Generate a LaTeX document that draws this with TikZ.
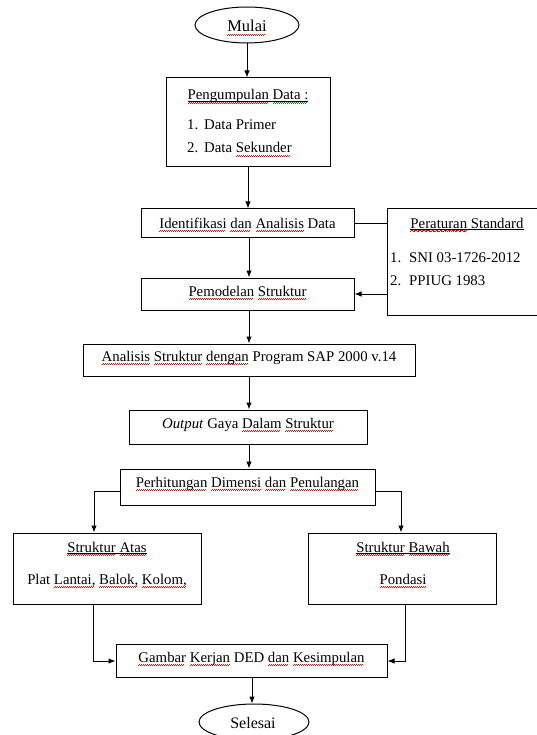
\documentclass[tikz,border=0pt]{standalone}
\usepackage{fontspec}
\setmainfont{Liberation Serif}
\usetikzlibrary{shapes.geometric,arrows.meta}
\newsavebox\wbox
\newcommand\wavepiece{\hbox{\rule[0pt]{1pt}{0.45pt}\rule[0.6pt]{1pt}{0.45pt}}}
\newcommand\wavy[2]{\sbox\wbox{#2}\rlap{\raisebox{-3.4pt}{\hbox to\wd\wbox{\color{#1}\leaders\wavepiece\hfill}}}\usebox\wbox}
\newcommand\rw[1]{\wavy{red}{#1}}
\newcommand\gw[1]{\wavy{green!55!black}{#1}}
\newsavebox\ulbox
\newcommand\ulx[1]{\sbox\ulbox{#1}\rlap{\rule[-1.6pt]{\wd\ulbox}{0.6pt}}\usebox\ulbox}
\begin{document}
\begin{tikzpicture}[x=1pt,y=-1pt,
  every node/.style={font=\fontsize{14.8}{17}\selectfont, inner sep=0pt},
  big/.style={font=\fontsize{16.5}{19}\selectfont},
  box/.style={draw, line width=1pt, rectangle},
  oval/.style={draw, line width=1pt, ellipse},
  lbl/.style={anchor=base},
  lbw/.style={anchor=base west},
  conn/.style={line width=1pt},
  arr/.style={conn, -{Latex[length=7pt,width=5.5pt]}}]
\useasboundingbox (0,0) rectangle (537,735);
% shapes
\node[oval, minimum width=104pt, minimum height=36pt] (mulai) at (247,25) {};
\node[box, minimum width=164pt, minimum height=89pt] (peng) at (248,122.5) {};
\node[box, minimum width=213pt, minimum height=28pt] (ident) at (247.5,223) {};
\node[box, minimum width=158pt, minimum height=106pt] (perat) at (466,262) {};
\node[box, minimum width=213pt, minimum height=32pt] (pemod) at (247.5,294) {};
\node[box, minimum width=332pt, minimum height=32pt] (anal) at (249,360) {};
\node[box, minimum width=238pt, minimum height=34pt] (outp) at (248,427) {};
\node[box, minimum width=255pt, minimum height=36pt] (perh) at (247.5,487) {};
\node[box, minimum width=188pt, minimum height=71pt] (atas) at (107,568.5) {};
\node[box, minimum width=188pt, minimum height=71pt] (bawah) at (402,568.5) {};
\node[box, minimum width=271pt, minimum height=33pt] (gamb) at (251.5,660.5) {};
\node[oval, minimum width=110pt, minimum height=36pt] (selesai) at (254,722) {};
% texts
\node[lbl, big] (tmulai) at (247,32) {\rw{Mulai}};
\node[lbl] (tpeng) at (248,100) {\ulx{\rw{Pengumpulan} \gw{Data :}}};
\node[lbw] (n1) at (187,130) {1.};
\node[lbw] (tp1) at (204,130) {Data Primer};
\node[lbw] (n2) at (187,153) {2.};
\node[lbw] (tp2) at (204,153) {Data \rw{Sekunder}};
\node[lbl] (tident) at (247.5,228) {\rw{Identifikasi} \rw{dan} \rw{Analisis} Data};
\node[lbl] (tperat) at (467,228) {\ulx{\rw{Peraturan} Standard}};
\node[lbw] (n3) at (390,262) {1.};
\node[lbw] (tr1) at (409,262) {SNI 03-1726-2012};
\node[lbw] (n4) at (390,285) {2.};
\node[lbw] (tr2) at (409,285) {PPIUG 1983};
\node[lbl] (tpemod) at (247.5,296) {\rw{Pemodelan} \rw{Struktur}};
\node[lbl] (tanal) at (249,361) {\rw{Analisis} \rw{Struktur} \rw{dengan} Program SAP 2000 v.14};
\node[lbl] (toutp) at (248,428) {\textit{Output} Gaya \rw{Dalam} \rw{Struktur}};
\node[lbl] (tperh) at (247.5,487) {\rw{Perhitungan} \rw{Dimensi} \rw{dan} \rw{Penulangan}};
\node[lbl] (tatas) at (107,552) {\ulx{\rw{Struktur} \rw{Atas}}};
\node[lbl] (tatas2) at (107,584) {Plat \rw{Lantai,} \rw{Balok,} \rw{Kolom,}};
\node[lbl] (tbawah) at (403,552) {\ulx{\rw{Struktur} \rw{Bawah}}};
\node[lbl] (tbawah2) at (403,584) {\rw{Pondasi}};
\node[lbl] (tgamb) at (251.5,662) {\rw{Gambar} \rw{Kerjan} DED \rw{dan} \rw{Kesimpulan}};
\node[lbl, font=\fontsize{16}{19}\selectfont] (tsel) at (253,728) {Selesai};
% connectors
\coordinate (spine) at (249,0);
\coordinate (bl) at (94,491);
\coordinate (br) at (401,491);
\coordinate (jl) at (93,661);
\coordinate (jr) at (405,661);
\coordinate (sp2) at (252,0);
\draw[arr] (mulai.south) -- (mulai.south |- peng.north);
\draw[arr] (peng.south) -- (peng.south |- ident.north);
\draw[conn] (ident.east) -- (ident.east -| perat.west);
\draw[arr] (perat.west |- pemod.east) -- (pemod.east);
\draw[arr] (spine |- ident.south) -- (spine |- pemod.north);
\draw[arr] (spine |- pemod.south) -- (spine |- anal.north);
\draw[arr] (spine |- anal.south) -- (spine |- outp.north);
\draw[arr] (spine |- outp.south) -- (spine |- perh.north);
\draw[arr] (perh.west |- bl) -- (bl) -- (bl |- atas.north);
\draw[arr] (perh.east |- br) -- (br) -- (br |- bawah.north);
\draw[arr] (jl |- atas.south) -- (jl) -- (gamb.west |- jl);
\draw[arr] (jr |- bawah.south) -- (jr) -- (gamb.east |- jr);
\draw[arr] (sp2 |- gamb.south) -- (sp2 |- selesai.north);
\end{tikzpicture}
\end{document}
